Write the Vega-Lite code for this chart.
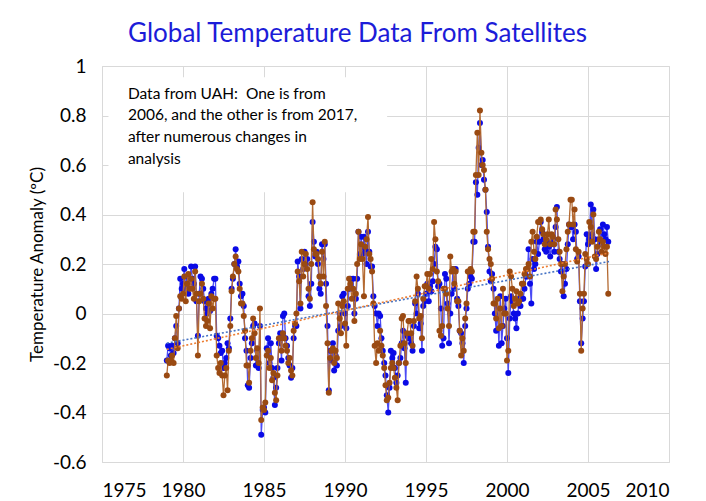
{
  "$schema": "https://vega.github.io/schema/vega-lite/v6.json",
  "width": 567,
  "height": 396,
  "autosize": "none",
  "padding": {"left": 102, "top": 66, "right": 37, "bottom": 39},
  "background": "white",
  "title": {"text": "Global Temperature Data From Satellites", "color": "#1c1cd8", "fontSize": 26, "font": "Lato", "fontWeight": "normal", "anchor": "middle", "dx": -28, "offset": 10},
  "config": {
    "view": {"stroke": "#d9d9d9"},
    "font": "Lato",
    "axis": {"grid": true, "gridColor": "#d9d9d9", "ticks": false, "domain": false, "labelFontSize": 19, "labelColor": "#000000", "labelFont": "Lato"}
  },
  "datasets": {
    "uah": [
      {"t":1979,"a":-0.19,"b":-0.25},{"t":1979.08,"a":-0.13,"b":-0.19},{"t":1979.17,"a":-0.14,"b":-0.2},{"t":1979.25,"a":-0.17,"b":-0.19},{"t":1979.33,"a":-0.13,"b":-0.17},{"t":1979.42,"a":-0.16,"b":-0.2},{"t":1979.5,"a":-0.1,"b":-0.1},{"t":1979.58,"a":-0.05,"b":-0.01},{"t":1979.67,"a":-0.12,"b":-0.14},{"t":1979.75,"a":0.02,"b":0.02},{"t":1979.83,"a":0.14,"b":0.07},{"t":1979.92,"a":0.1,"b":0.06},
      {"t":1980,"a":0.12,"b":0.08},{"t":1980.08,"a":0.18,"b":0.15},{"t":1980.17,"a":0.1,"b":0.05},{"t":1980.25,"a":0.15,"b":0.12},{"t":1980.33,"a":0.08,"b":0.16},{"t":1980.42,"a":0.13,"b":0.1},{"t":1980.5,"a":0.19,"b":0.14},{"t":1980.58,"a":0.14,"b":0.1},{"t":1980.67,"a":0.12,"b":0.06},{"t":1980.75,"a":0.19,"b":0.17},{"t":1980.83,"a":0.05,"b":0.08},{"t":1980.92,"a":-0.09,"b":-0.17},
      {"t":1981,"a":0.08,"b":0.05},{"t":1981.08,"a":0.15,"b":0.08},{"t":1981.17,"a":0.14,"b":0.12},{"t":1981.25,"a":0.1,"b":0.06},{"t":1981.33,"a":0.05,"b":-0.02},{"t":1981.42,"a":0.02,"b":-0.05},{"t":1981.5,"a":0,"b":-0.03},{"t":1981.58,"a":0.06,"b":0.04},{"t":1981.67,"a":0.01,"b":-0.06},{"t":1981.75,"a":0.08,"b":0.07},{"t":1981.83,"a":0.1,"b":0.02},{"t":1981.92,"a":0.14,"b":0.06},
      {"t":1982,"a":0.14,"b":0.06},{"t":1982.08,"a":-0.09,"b":-0.17},{"t":1982.17,"a":-0.1,"b":-0.22},{"t":1982.25,"a":-0.13,"b":-0.24},{"t":1982.33,"a":-0.16,"b":-0.2},{"t":1982.42,"a":-0.15,"b":-0.25},{"t":1982.5,"a":-0.22,"b":-0.33},{"t":1982.58,"a":-0.2,"b":-0.25},{"t":1982.67,"a":-0.18,"b":-0.22},{"t":1982.75,"a":-0.12,"b":-0.31},{"t":1982.83,"a":-0.14,"b":-0.15},{"t":1982.92,"a":-0.02,"b":-0.05},
      {"t":1983,"a":0.1,"b":0.09},{"t":1983.08,"a":0.14,"b":0.15},{"t":1983.17,"a":0.2,"b":0.2},{"t":1983.25,"a":0.26,"b":0.23},{"t":1983.33,"a":0.19,"b":0.18},{"t":1983.42,"a":0.21,"b":0.17},{"t":1983.5,"a":0.12,"b":0.1},{"t":1983.58,"a":0.07,"b":0.04},{"t":1983.67,"a":0.08,"b":0.04},{"t":1983.75,"a":0.03,"b":-0.01},{"t":1983.83,"a":-0.1,"b":-0.07},{"t":1983.92,"a":-0.15,"b":-0.21},
      {"t":1984,"a":-0.29,"b":-0.21},{"t":1984.08,"a":-0.3,"b":-0.28},{"t":1984.17,"a":-0.18,"b":-0.15},{"t":1984.25,"a":-0.12,"b":-0.1},{"t":1984.33,"a":-0.05,"b":-0.02},{"t":1984.42,"a":-0.04,"b":-0.08},{"t":1984.5,"a":-0.21,"b":-0.18},{"t":1984.58,"a":-0.15,"b":-0.14},{"t":1984.67,"a":-0.22,"b":-0.2},{"t":1984.75,"a":-0.05,"b":0.02},{"t":1984.83,"a":-0.49,"b":-0.43},{"t":1984.92,"a":-0.39,"b":-0.38},
      {"t":1985,"a":-0.38,"b":-0.39},{"t":1985.08,"a":-0.4,"b":-0.36},{"t":1985.17,"a":-0.14,"b":-0.17},{"t":1985.25,"a":-0.1,"b":-0.15},{"t":1985.33,"a":-0.2,"b":-0.22},{"t":1985.42,"a":-0.12,"b":-0.18},{"t":1985.5,"a":-0.22,"b":-0.27},{"t":1985.58,"a":-0.26,"b":-0.24},{"t":1985.67,"a":-0.37,"b":-0.32},{"t":1985.75,"a":-0.3,"b":-0.35},{"t":1985.83,"a":-0.22,"b":-0.25},{"t":1985.92,"a":-0.12,"b":-0.1},
      {"t":1986,"a":-0.08,"b":-0.1},{"t":1986.08,"a":-0.19,"b":-0.15},{"t":1986.17,"a":-0.01,"b":-0.08},{"t":1986.25,"a":0,"b":-0.1},{"t":1986.33,"a":-0.1,"b":-0.13},{"t":1986.42,"a":-0.13,"b":-0.15},{"t":1986.5,"a":-0.18,"b":-0.2},{"t":1986.58,"a":-0.21,"b":-0.18},{"t":1986.67,"a":-0.26,"b":-0.23},{"t":1986.75,"a":-0.22,"b":-0.25},{"t":1986.83,"a":-0.1,"b":-0.07},{"t":1986.92,"a":-0.05,"b":-0.04},
      {"t":1987,"a":-0.05,"b":0},{"t":1987.08,"a":0.21,"b":0.17},{"t":1987.17,"a":0.15,"b":0.13},{"t":1987.25,"a":0.02,"b":0.04},{"t":1987.33,"a":0.22,"b":0.25},{"t":1987.42,"a":0.18,"b":0.15},{"t":1987.5,"a":0.25,"b":0.2},{"t":1987.58,"a":0.2,"b":0.24},{"t":1987.67,"a":0.22,"b":0.18},{"t":1987.75,"a":0.07,"b":0.1},{"t":1987.83,"a":0.03,"b":0.06},{"t":1987.92,"a":0.12,"b":0.2},
      {"t":1988,"a":0.37,"b":0.45},{"t":1988.08,"a":0.29,"b":0.26},{"t":1988.17,"a":0.23,"b":0.24},{"t":1988.25,"a":0.25,"b":0.24},{"t":1988.33,"a":0.2,"b":0.22},{"t":1988.42,"a":0.1,"b":0.15},{"t":1988.5,"a":0.08,"b":0.12},{"t":1988.58,"a":0.28,"b":0.25},{"t":1988.67,"a":0.22,"b":0.15},{"t":1988.75,"a":0.28,"b":0.29},{"t":1988.83,"a":0.12,"b":0.03},{"t":1988.92,"a":-0.05,"b":-0.12},
      {"t":1989,"a":-0.31,"b":-0.32},{"t":1989.08,"a":-0.15,"b":-0.18},{"t":1989.17,"a":-0.19,"b":-0.15},{"t":1989.25,"a":-0.12,"b":-0.14},{"t":1989.33,"a":-0.23,"b":-0.2},{"t":1989.42,"a":-0.17,"b":-0.15},{"t":1989.5,"a":-0.21,"b":-0.18},{"t":1989.58,"a":-0.07,"b":0.04},{"t":1989.67,"a":0,"b":-0.02},{"t":1989.75,"a":-0.05,"b":-0.08},{"t":1989.83,"a":0.07,"b":0.03},{"t":1989.92,"a":0.08,"b":0.05},
      {"t":1990,"a":0,"b":-0.04},{"t":1990.08,"a":-0.06,"b":-0.13},{"t":1990.17,"a":0.03,"b":0.1},{"t":1990.25,"a":0.1,"b":0.14},{"t":1990.33,"a":0.14,"b":0.12},{"t":1990.42,"a":0.1,"b":0.06},{"t":1990.5,"a":0.14,"b":0.1},{"t":1990.58,"a":0,"b":-0.03},{"t":1990.67,"a":0.06,"b":0.08},{"t":1990.75,"a":0.14,"b":0.2},{"t":1990.83,"a":0.33,"b":0.33},{"t":1990.92,"a":0.24,"b":0.22},
      {"t":1991,"a":0.31,"b":0.28},{"t":1991.08,"a":0.24,"b":0.22},{"t":1991.17,"a":0.31,"b":0.07},{"t":1991.25,"a":0.26,"b":0.27},{"t":1991.33,"a":0.2,"b":0.3},{"t":1991.42,"a":0.33,"b":0.39},{"t":1991.5,"a":0.25,"b":0.24},{"t":1991.58,"a":0.19,"b":0.22},{"t":1991.67,"a":0.19,"b":0.17},{"t":1991.75,"a":0.07,"b":0.04},{"t":1991.83,"a":0.03,"b":-0.13},{"t":1991.92,"a":0,"b":-0.2},
      {"t":1992,"a":-0.05,"b":-0.12},{"t":1992.08,"a":0,"b":-0.15},{"t":1992.17,"a":-0.01,"b":-0.07},{"t":1992.25,"a":-0.1,"b":-0.13},{"t":1992.33,"a":-0.15,"b":-0.17},{"t":1992.42,"a":-0.2,"b":-0.22},{"t":1992.5,"a":-0.25,"b":-0.29},{"t":1992.58,"a":-0.33,"b":-0.35},{"t":1992.67,"a":-0.4,"b":-0.34},{"t":1992.75,"a":-0.3,"b":-0.28},{"t":1992.83,"a":-0.15,"b":-0.22},{"t":1992.92,"a":-0.18,"b":-0.2},
      {"t":1993,"a":-0.16,"b":-0.22},{"t":1993.08,"a":-0.22,"b":-0.26},{"t":1993.17,"a":-0.28,"b":-0.3},{"t":1993.25,"a":-0.25,"b":-0.35},{"t":1993.33,"a":-0.2,"b":-0.2},{"t":1993.42,"a":-0.18,"b":-0.13},{"t":1993.5,"a":-0.12,"b":-0.02},{"t":1993.58,"a":-0.07,"b":-0.01},{"t":1993.67,"a":-0.14,"b":-0.12},{"t":1993.75,"a":-0.28,"b":-0.2},{"t":1993.83,"a":-0.09,"b":-0.08},{"t":1993.92,"a":-0.1,"b":-0.03},
      {"t":1994,"a":-0.1,"b":-0.03},{"t":1994.08,"a":-0.12,"b":-0.08},{"t":1994.17,"a":-0.15,"b":-0.13},{"t":1994.25,"a":-0.05,"b":-0.03},{"t":1994.33,"a":0.04,"b":0.05},{"t":1994.42,"a":0,"b":0.15},{"t":1994.5,"a":0.08,"b":0.1},{"t":1994.58,"a":-0.06,"b":-0.02},{"t":1994.67,"a":-0.04,"b":-0.01},{"t":1994.75,"a":-0.15,"b":-0.1},{"t":1994.83,"a":0.03,"b":0.06},{"t":1994.92,"a":0.05,"b":0.11},
      {"t":1995,"a":0.08,"b":0.11},{"t":1995.08,"a":0.12,"b":0.16},{"t":1995.17,"a":0.05,"b":0.1},{"t":1995.25,"a":0.11,"b":0.16},{"t":1995.33,"a":0.09,"b":0.22},{"t":1995.42,"a":0.13,"b":0.18},{"t":1995.5,"a":0.2,"b":0.37},{"t":1995.58,"a":0.27,"b":0.3},{"t":1995.67,"a":0.26,"b":0.17},{"t":1995.75,"a":0.11,"b":0.13},{"t":1995.83,"a":0.12,"b":-0.07},{"t":1995.92,"a":0.02,"b":-0.09},
      {"t":1996,"a":-0.13,"b":-0.05},{"t":1996.08,"a":-0.1,"b":0.1},{"t":1996.17,"a":0.16,"b":0.1},{"t":1996.25,"a":0.14,"b":0.08},{"t":1996.33,"a":0.04,"b":0.02},{"t":1996.42,"a":-0.12,"b":-0.05},{"t":1996.5,"a":0,"b":0.23},{"t":1996.58,"a":0.08,"b":0.17},{"t":1996.67,"a":0.18,"b":0.18},{"t":1996.75,"a":0.1,"b":0.12},{"t":1996.83,"a":0.18,"b":0.17},{"t":1996.92,"a":0.06,"b":0.05},
      {"t":1997,"a":0.03,"b":0.05},{"t":1997.08,"a":-0.07,"b":-0.07},{"t":1997.17,"a":-0.08,"b":-0.17},{"t":1997.25,"a":-0.12,"b":-0.1},{"t":1997.33,"a":-0.2,"b":-0.15},{"t":1997.42,"a":-0.05,"b":-0.02},{"t":1997.5,"a":0.02,"b":0.04},{"t":1997.58,"a":0.1,"b":0.17},{"t":1997.67,"a":0.12,"b":0.17},{"t":1997.75,"a":0.15,"b":0.18},{"t":1997.83,"a":0.14,"b":0.17},{"t":1997.92,"a":0.29,"b":0.33},
      {"t":1998,"a":0.29,"b":0.33},{"t":1998.08,"a":0.53,"b":0.56},{"t":1998.17,"a":0.48,"b":0.73},{"t":1998.25,"a":0.67,"b":0.56},{"t":1998.33,"a":0.77,"b":0.82},{"t":1998.42,"a":0.6,"b":0.65},{"t":1998.5,"a":0.62,"b":0.6},{"t":1998.58,"a":0.54,"b":0.58},{"t":1998.67,"a":0.5,"b":0.5},{"t":1998.75,"a":0.41,"b":0.33},{"t":1998.83,"a":0.27,"b":0.26},{"t":1998.92,"a":0.17,"b":0.22},
      {"t":1999,"a":0.13,"b":0.2},{"t":1999.08,"a":0.16,"b":0.14},{"t":1999.17,"a":0.1,"b":0.04},{"t":1999.25,"a":0,"b":0.04},{"t":1999.33,"a":-0.07,"b":-0.02},{"t":1999.42,"a":0.02,"b":0.06},{"t":1999.5,"a":-0.13,"b":-0.06},{"t":1999.58,"a":0.07,"b":0.02},{"t":1999.67,"a":-0.12,"b":-0.05},{"t":1999.75,"a":-0.05,"b":0.1},{"t":1999.83,"a":0.02,"b":0},{"t":1999.92,"a":0.06,"b":0},
      {"t":2000,"a":-0.1,"b":-0.19},{"t":2000.08,"a":-0.24,"b":-0.15},{"t":2000.17,"a":-0.02,"b":0.17},{"t":2000.25,"a":0.07,"b":0.15},{"t":2000.33,"a":0.05,"b":0.1},{"t":2000.42,"a":0,"b":0.03},{"t":2000.5,"a":-0.02,"b":0.06},{"t":2000.58,"a":-0.06,"b":0.09},{"t":2000.67,"a":0,"b":0.04},{"t":2000.75,"a":0.06,"b":0.05},{"t":2000.83,"a":0.03,"b":0.08},{"t":2000.92,"a":0.06,"b":0.12},
      {"t":2001,"a":0.06,"b":0.12},{"t":2001.08,"a":0.1,"b":0.16},{"t":2001.17,"a":0.15,"b":0.18},{"t":2001.25,"a":0.15,"b":0.18},{"t":2001.33,"a":0.26,"b":0.2},{"t":2001.42,"a":0.12,"b":0.15},{"t":2001.5,"a":0.04,"b":0.29},{"t":2001.58,"a":0.22,"b":0.33},{"t":2001.67,"a":0.18,"b":0.25},{"t":2001.75,"a":0.2,"b":0.22},{"t":2001.83,"a":0.29,"b":0.31},{"t":2001.92,"a":0.24,"b":0.37},
      {"t":2002,"a":0.29,"b":0.37},{"t":2002.08,"a":0.37,"b":0.38},{"t":2002.17,"a":0.33,"b":0.34},{"t":2002.25,"a":0.3,"b":0.32},{"t":2002.33,"a":0.26,"b":0.28},{"t":2002.42,"a":0.25,"b":0.3},{"t":2002.5,"a":0.29,"b":0.32},{"t":2002.58,"a":0.27,"b":0.38},{"t":2002.67,"a":0.23,"b":0.28},{"t":2002.75,"a":0.28,"b":0.32},{"t":2002.83,"a":0.3,"b":0.31},{"t":2002.92,"a":0.25,"b":0.28},
      {"t":2003,"a":0.35,"b":0.42},{"t":2003.08,"a":0.43,"b":0.38},{"t":2003.17,"a":0.25,"b":0.3},{"t":2003.25,"a":0.22,"b":0.25},{"t":2003.33,"a":0.17,"b":0.2},{"t":2003.42,"a":0.2,"b":0.09},{"t":2003.5,"a":0.07,"b":0.15},{"t":2003.58,"a":0.12,"b":0.2},{"t":2003.67,"a":0.18,"b":0.26},{"t":2003.75,"a":0.28,"b":0.33},{"t":2003.83,"a":0.36,"b":0.36},{"t":2003.92,"a":0.35,"b":0.46},
      {"t":2004,"a":0.35,"b":0.46},{"t":2004.08,"a":0.3,"b":0.36},{"t":2004.17,"a":0.36,"b":0.42},{"t":2004.25,"a":0.33,"b":0.26},{"t":2004.33,"a":0.22,"b":0.21},{"t":2004.42,"a":0.23,"b":0.25},{"t":2004.5,"a":0.05,"b":0.08},{"t":2004.58,"a":-0.12,"b":-0.15},{"t":2004.67,"a":-0.02,"b":0.02},{"t":2004.75,"a":0.05,"b":0.08},{"t":2004.83,"a":0.19,"b":0.24},{"t":2004.92,"a":0.32,"b":0.22},
      {"t":2005,"a":0.28,"b":0.2},{"t":2005.08,"a":0.3,"b":0.37},{"t":2005.17,"a":0.44,"b":0.35},{"t":2005.25,"a":0.32,"b":0.29},{"t":2005.33,"a":0.42,"b":0.4},{"t":2005.42,"a":0.3,"b":0.23},{"t":2005.5,"a":0.18,"b":0.22},{"t":2005.58,"a":0.24,"b":0.27},{"t":2005.67,"a":0.3,"b":0.33},{"t":2005.75,"a":0.34,"b":0.3},{"t":2005.83,"a":0.28,"b":0.25},{"t":2005.92,"a":0.36,"b":0.29},
      {"t":2006,"a":0.32,"b":0.27},{"t":2006.08,"a":0.3,"b":0.24},{"t":2006.17,"a":0.35,"b":0.27},{"t":2006.25,"a":0.29,"b":0.08}
    ],
    "trend": [{"t": 1979, "a": -0.12, "b": -0.145}, {"t": 2006.3, "a": 0.21, "b": 0.245}],
    "note": [{"t": 1976.6, "v": 0.917, "txt": ["Data from UAH:\u00a0 One is from", "2006, and the other is from 2017,", "after numerous changes in", "analysis"]}],
    "box": [{"x1": 1975.4, "x2": 1992.6, "y1": 0.49, "y2": 0.955}]
  },
  "layer": [
    {
      "data": {"name": "box"},
      "mark": {"type": "rect", "fill": "white"},
      "encoding": {
        "x": {"field": "x1", "type": "quantitative", "scale": {"domain": [1975, 2010], "nice": false},
              "axis": {"title": null, "tickCount": 7, "format": "d", "labelPadding": 19}},
        "x2": {"field": "x2"},
        "y": {"field": "y1", "type": "quantitative", "scale": {"domain": [-0.6, 1], "nice": false},
              "axis": {"title": "Temperature Anomaly (ºC)", "tickCount": 8, "labelPadding": 16,
                       "labelExpr": "datum.value < -0.001 ? '-' + format(-datum.value, '~g') : format(abs(datum.value) < 0.001 ? 0 : datum.value, '~g')",
                       "titleFontSize": 17, "titleFont": "Lato", "titleFontWeight": "normal", "titleColor": "#000000",
                       "titleX": -65, "titleY": 198, "titleBaseline": "middle", "titleAlign": "center"}},
        "y2": {"field": "y2"}
      }
    },
    {
      "data": {"name": "uah"},
      "mark": {"type": "line", "color": "#4b4bf5", "strokeWidth": 1.3, "point": {"filled": true, "color": "#0a0ae6", "size": 36, "opacity": 1}},
      "encoding": {
        "x": {"field": "t", "type": "quantitative", "title": null},
        "y": {"field": "a", "type": "quantitative", "title": "Temperature Anomaly (ºC)"}
      }
    },
    {
      "data": {"name": "uah"},
      "mark": {"type": "line", "color": "#b46a32", "strokeWidth": 1.3, "point": {"filled": true, "color": "#9a4a12", "size": 36, "opacity": 1}},
      "encoding": {
        "x": {"field": "t", "type": "quantitative", "title": null},
        "y": {"field": "b", "type": "quantitative", "title": "Temperature Anomaly (ºC)"}
      }
    },
    {
      "data": {"name": "trend"},
      "mark": {"type": "line", "color": "#4472c4", "strokeWidth": 1.6, "strokeDash": [2, 2]},
      "encoding": {
        "x": {"field": "t", "type": "quantitative", "title": null},
        "y": {"field": "a", "type": "quantitative", "title": "Temperature Anomaly (ºC)"}
      }
    },
    {
      "data": {"name": "trend"},
      "mark": {"type": "line", "color": "#ed7d31", "strokeWidth": 1.6, "strokeDash": [2, 2]},
      "encoding": {
        "x": {"field": "t", "type": "quantitative", "title": null},
        "y": {"field": "b", "type": "quantitative", "title": "Temperature Anomaly (ºC)"}
      }
    },
    {
      "data": {"name": "note"},
      "mark": {"type": "text", "align": "left", "baseline": "top", "font": "Lato", "fontSize": 15.5, "color": "#000000", "lineHeight": 21.7},
      "encoding": {
        "x": {"field": "t", "type": "quantitative", "title": null},
        "y": {"field": "v", "type": "quantitative", "title": "Temperature Anomaly (ºC)"},
        "text": {"field": "txt"}
      }
    }
  ]
}
